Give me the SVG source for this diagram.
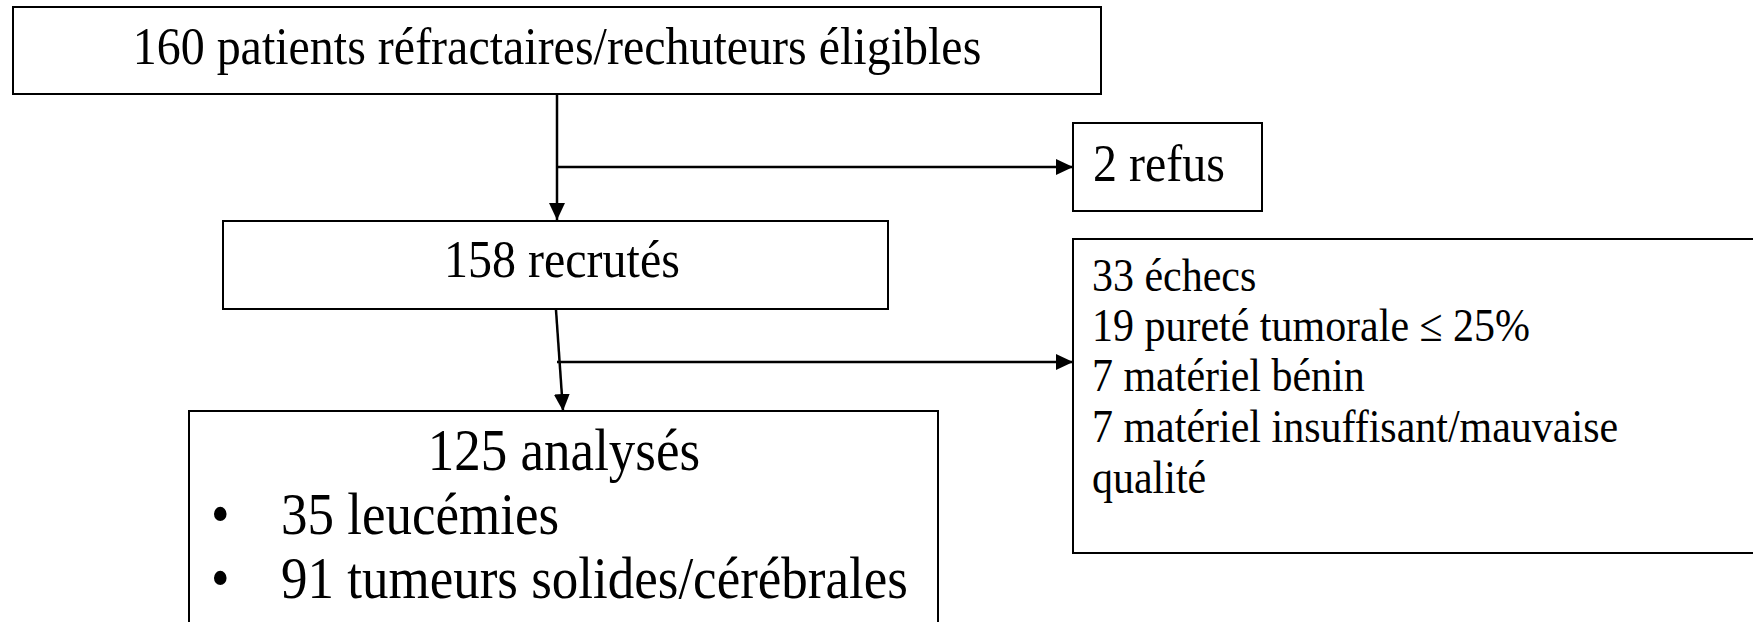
<svg xmlns="http://www.w3.org/2000/svg" width="1753" height="622" viewBox="0 0 1753 622">
<style>
.box{fill:#fff;stroke:#000;stroke-width:2}
.t{font-family:"Liberation Serif","Times New Roman",serif;fill:#000}
.ln{stroke:#000;stroke-width:2.5;fill:none}
</style>
<defs>
<marker id="ah" markerUnits="userSpaceOnUse" markerWidth="18" markerHeight="16" refX="17" refY="8" orient="auto">
<path d="M0,0 L17,8 L0,16 z" fill="#000"/>
</marker>
</defs>
<rect width="1753" height="622" fill="#fff"/>
<g id="connectors">
<line class="ln" x1="557" y1="95" x2="557" y2="220" marker-end="url(#ah)"/>
<line class="ln" x1="557" y1="167" x2="1073" y2="167" marker-end="url(#ah)"/>
<line class="ln" x1="556" y1="310" x2="563" y2="411" marker-end="url(#ah)"/>
<line class="ln" x1="557" y1="362" x2="1073" y2="362" marker-end="url(#ah)"/>
</g>
<g id="n1">
<rect class="box" x="13" y="7" width="1088" height="87"/>
<text class="t" transform="translate(0 64) scale(1 1.1)" x="557" y="0" font-size="48" text-anchor="middle">160 patients réfractaires/rechuteurs éligibles</text>
</g>
<g id="n2">
<rect class="box" x="1073" y="123" width="189" height="88"/>
<text class="t" transform="translate(0 181) scale(1 1.1)" x="1093" y="0" font-size="48">2 refus</text>
</g>
<g id="n3">
<rect class="box" x="223" y="221" width="665" height="88"/>
<text class="t" transform="translate(0 277) scale(1 1.1)" x="562" y="0" font-size="48" text-anchor="middle">158 recrutés</text>
</g>
<g id="n4">
<rect class="box" x="1073" y="239" width="700" height="314"/>
<text class="t" transform="translate(0 291) scale(1 1.1)" font-size="42">
<tspan x="1092" y="0">33 échecs</tspan>
<tspan x="1092" y="45.5">19 pureté tumorale ≤ 25%</tspan>
<tspan x="1092" y="90.5">7 matériel bénin</tspan>
<tspan x="1092" y="137">7 matériel insuffisant/mauvaise</tspan>
<tspan x="1092" y="184">qualité</tspan>
</text>
</g>
<g id="n5">
<rect class="box" x="189" y="411" width="749" height="240"/>
<text class="t" transform="translate(0 470) scale(1 1.1)" x="564" y="0" font-size="53" text-anchor="middle">125 analysés</text>
<text class="t" transform="translate(0 534) scale(1 1.1)" x="211" y="0" font-size="53">•</text>
<text class="t" transform="translate(0 534) scale(1 1.1)" x="281" y="0" font-size="53">35 leucémies</text>
<text class="t" transform="translate(0 598) scale(1 1.1)" x="211" y="0" font-size="53">•</text>
<text class="t" transform="translate(0 598) scale(1 1.1)" x="281" y="0" font-size="53">91 tumeurs solides/cérébrales</text>
</g>
</svg>
